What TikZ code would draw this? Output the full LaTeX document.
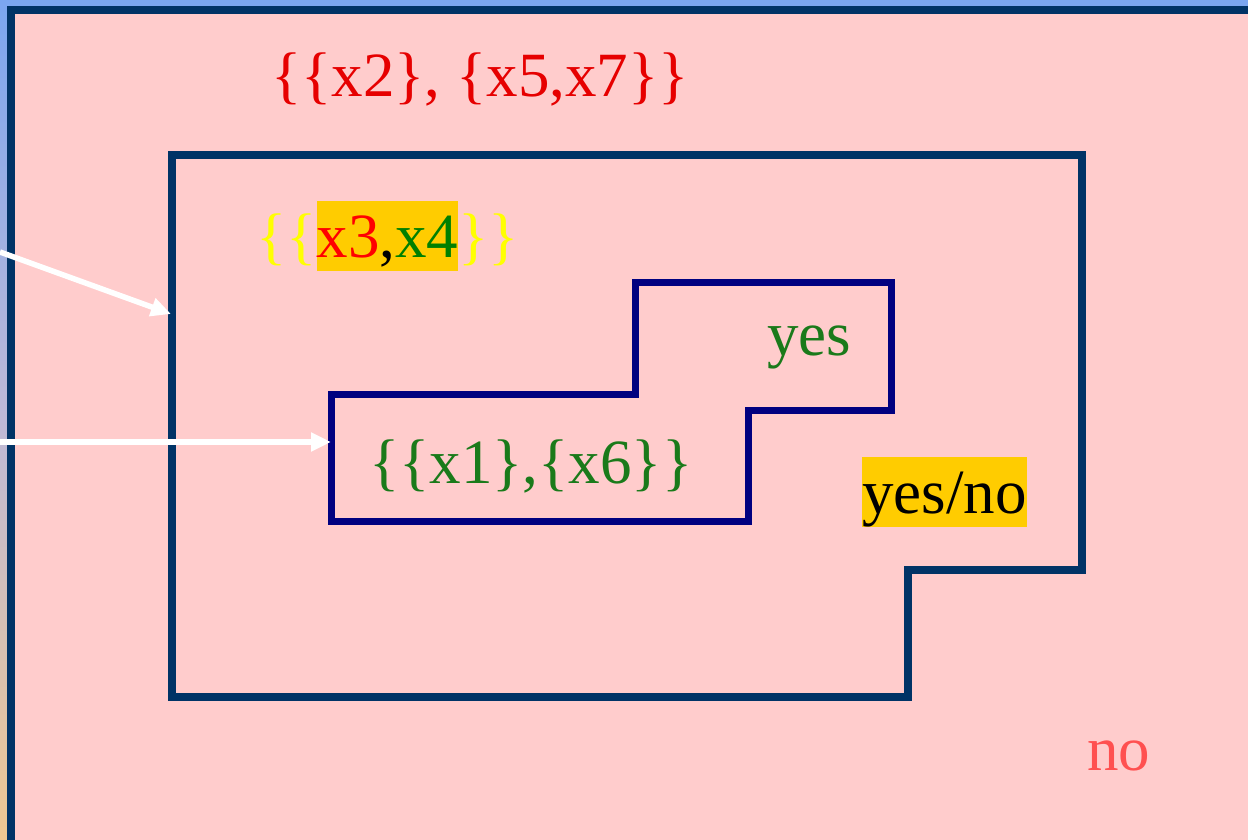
\documentclass[tikz,border=0pt]{standalone}
\usepackage{fontspec}
\setmainfont{Liberation Serif}
\usetikzlibrary{arrows.meta}
\definecolor{pinkbg}{RGB}{255,204,204}
\definecolor{navyA}{RGB}{0,51,102}
\definecolor{navyB}{RGB}{0,0,128}
\definecolor{hlorange}{RGB}{255,204,0}
\definecolor{topred}{RGB}{230,0,0}
\definecolor{xred}{RGB}{255,0,0}
\definecolor{xgreen}{RGB}{0,128,0}
\definecolor{dgreen}{RGB}{26,122,26}
\definecolor{yel}{RGB}{255,255,0}
\definecolor{nored}{RGB}{255,80,80}
\definecolor{skyblue}{RGB}{123,166,240}
\definecolor{lavend}{RGB}{190,185,215}
\definecolor{tanbg}{RGB}{238,200,145}
\newcommand\hlbox[1]{{\setlength{\fboxsep}{0pt}\colorbox{hlorange}{\rule[-0.216em]{0pt}{1.107em}#1}}}
\begin{document}
\begin{tikzpicture}[x=1pt,y=-1pt,
  txt/.style={anchor=base west, inner sep=0pt, font=\fontsize{63}{70}\selectfont},
  outline/.style={line width=7.5pt, draw=navyA},
  inline/.style={line width=7pt, draw=navyB},
  whitearrow/.style={draw=white, line width=5.5pt, -{Triangle[length=20pt,width=18pt]}}]
\useasboundingbox (0,0) rectangle (1248,840);
\clip (0,0) rectangle (1248,840);
% background outside frame
\shade[top color=skyblue, bottom color=tanbg, middle color=lavend] (0,0) rectangle (1248,840);
% frame
\draw[line width=8pt, draw=navyA, fill=pinkbg] (11,10) rectangle (1260,846);
% outer region
\draw[outline] (172,155) -- (1082,155) -- (1082,570) -- (908,570) -- (908,697) -- (172,697) -- cycle;
% inner region
\draw[inline] (331,394) -- (635,394) -- (635,282) -- (891,282) -- (891,410) -- (748,410) -- (748,521) -- (331,521) -- cycle;
% texts
\node[txt, text=topred] (upper) at (271,97) {\{\{x2\}, \{x5,x7\}\}};
\node[txt] (boundary) at (256,257) {\textcolor{yel}{\{\{}\hlbox{\textcolor{xred}{x3},\textcolor{xgreen}{x4}}\textcolor{yel}{\}\}}};
\node[txt, text=dgreen] (lower) at (369,483) {\{\{x1\},\{x6\}\}};
\node[txt, text=dgreen] (yes) at (767,355) {yes};
\node[txt, text=black] (yesno) at (862,513) {\hlbox{yes/no}};
\node[txt, text=nored] (no) at (1087,770) {no};
% arrows
\coordinate (s1) at (0,252);
\coordinate (t1) at (171,314);
\coordinate (s2) at (0,442);
\coordinate (t2) at (331,442);
\draw[whitearrow] (s1) -- (t1);
\draw[whitearrow] (s2) -- (t2);
\end{tikzpicture}
\end{document}
